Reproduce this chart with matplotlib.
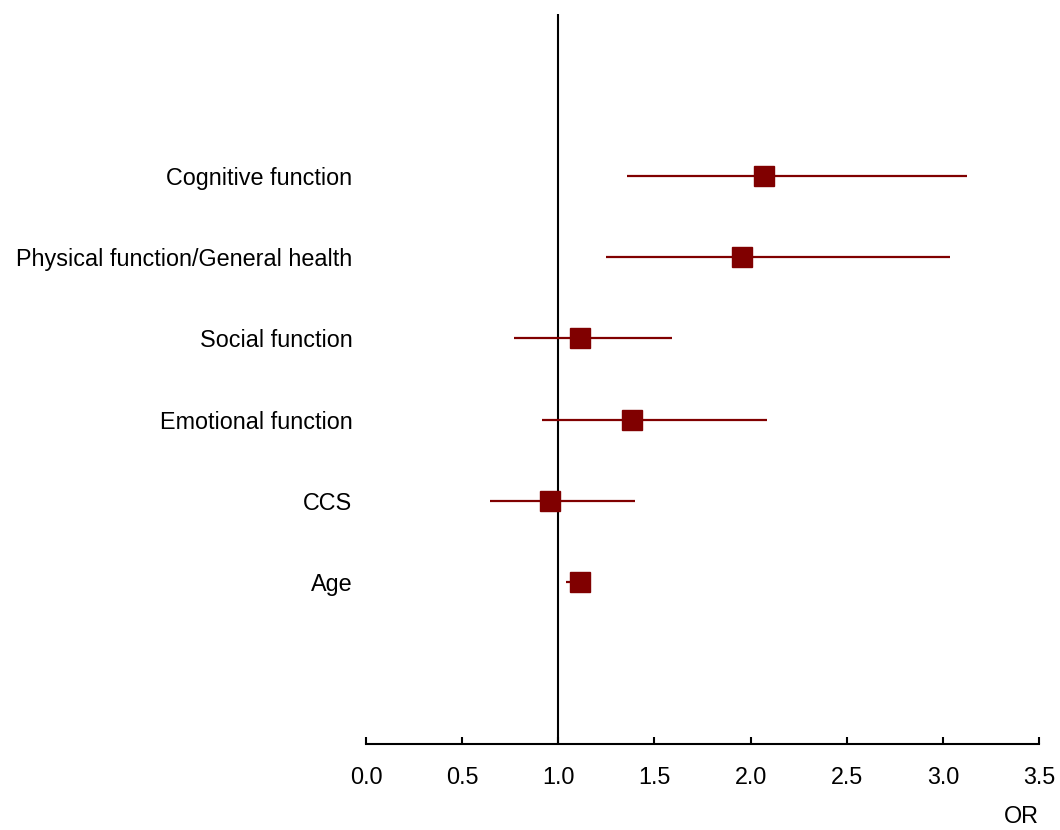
import matplotlib
matplotlib.use("Agg")
import matplotlib.pyplot as plt

plt.rcParams['font.family'] = ['Liberation Sans', 'DejaVu Sans']

# odds ratios with 95% CI, top row first
labels = ["Cognitive function", "Physical function/General health",
          "Social function", "Emotional function", "CCS", "Age"]
odds = [2.07, 1.955, 1.113, 1.383, 0.957, 1.113]
ci_low = [1.357, 1.248, 0.77, 0.915, 0.645, 1.04]
ci_high = [3.125, 3.037, 1.591, 2.085, 1.399, 1.17]
xticks = [0.0, 0.5, 1.0, 1.5, 2.0, 2.5, 3.0, 3.5]

red = "#800000"
fs = 16.8
ypos = list(range(len(labels) + 1, 1, -1))  # 7 .. 2

fig = plt.figure(figsize=(10.6, 8.3), dpi=100)
ax = fig.add_axes([0.3453, 0.1036, 0.6349, 0.8795])

# reference line at OR = 1
ax.plot([1, 1], [0, 9], color="black", lw=1.5, zorder=1)

ax.hlines(ypos, ci_low, ci_high, color=red, lw=1.6, zorder=2)
ax.plot(odds, ypos, ls="none", marker="s", ms=15, color=red, zorder=3)

for y, lab in zip(ypos, labels):
    ax.text(-0.02, y, lab, ha="right", va="center_baseline", fontsize=fs,
            transform=ax.get_yaxis_transform())

ax.set_xlim(0, 3.5)
ax.set_ylim(0, 9)
ax.set_xticks(xticks)
ax.set_xticklabels(["%.1f" % t for t in xticks], fontsize=fs)
ax.set_yticks([])
for s in ["left", "right", "top"]:
    ax.spines[s].set_visible(False)
ax.spines["bottom"].set_linewidth(1.5)
ax.tick_params(axis="x", direction="in", length=5, width=1.5, pad=16)
ax.set_xlabel("OR", fontsize=fs, loc="right", labelpad=11)

fig.savefig("out.png", dpi=100)
